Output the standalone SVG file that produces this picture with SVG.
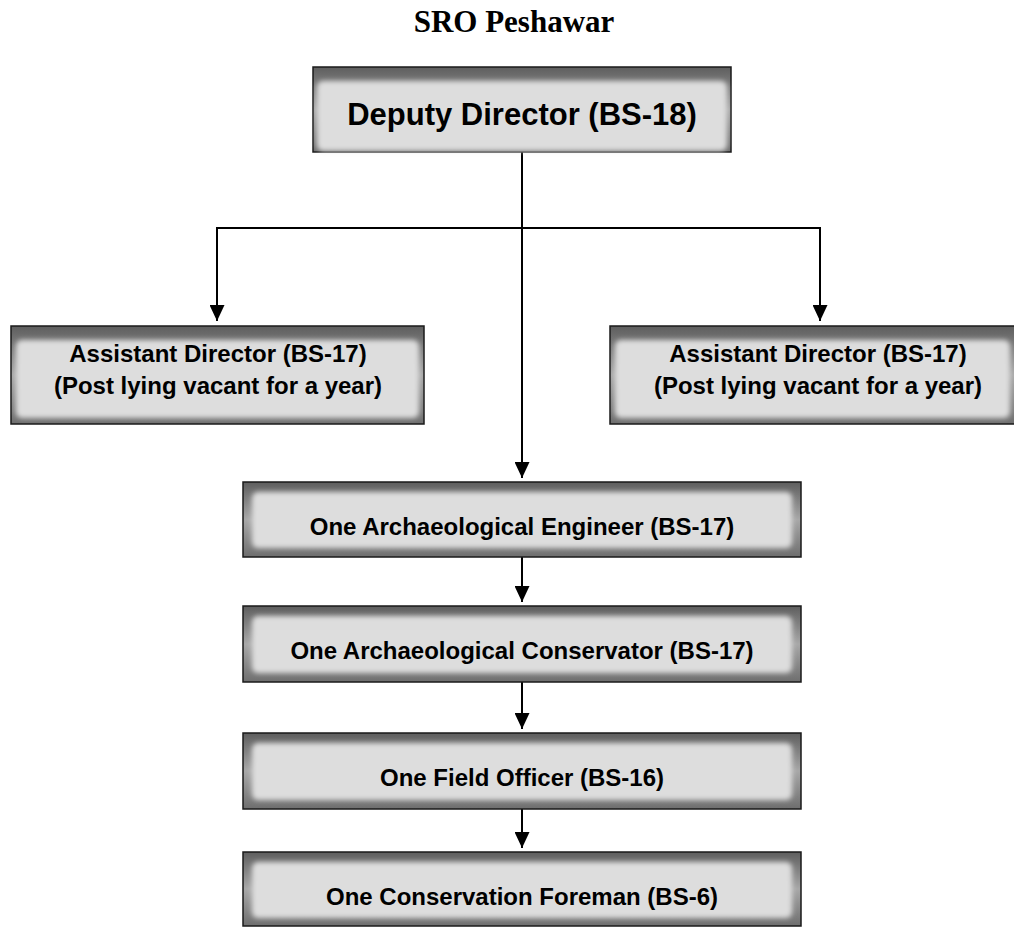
<svg xmlns="http://www.w3.org/2000/svg" width="1014" height="928" viewBox="0 0 1014 928">
<style>
.title{font-family:"Liberation Serif","Times New Roman",serif;font-weight:bold;font-size:31px;fill:#000;text-anchor:middle}
.lbl{font-family:"Liberation Sans",Arial,sans-serif;font-weight:bold;fill:#000;text-anchor:middle}
.big{font-size:31px}
.mid{font-size:24px}
.outer{fill:url(#edge);stroke:#1a1a1a;stroke-width:1.5}
.inner{fill:#dddddd;filter:url(#soft)}
.conn{fill:none;stroke:#000;stroke-width:2}
</style>
<defs>
<linearGradient id="edge" x1="0" y1="0" x2="0" y2="1">
<stop offset="0" stop-color="#5e5e5e"/>
<stop offset="0.5" stop-color="#a8a8a8"/>
<stop offset="1" stop-color="#6e6e6e"/>
</linearGradient>
<filter id="soft" x="-10%" y="-30%" width="120%" height="160%">
<feGaussianBlur stdDeviation="2.5"/>
</filter>
<marker id="ah" viewBox="0 0 16 15" refX="16" refY="7.5" markerWidth="16" markerHeight="15" markerUnits="userSpaceOnUse" orient="auto">
<path d="M0,0 L16,7.5 L0,15 z" fill="#000"/>
</marker>
</defs>
<text class="title" x="514" y="32">SRO Peshawar</text>
<g id="connectors">
<path class="conn" d="M522,152 V478" marker-end="url(#ah)"/>
<path class="conn" d="M522,228 H217 V321" marker-end="url(#ah)"/>
<path class="conn" d="M522,228 H820 V321" marker-end="url(#ah)"/>
<path class="conn" d="M522,557 V602" marker-end="url(#ah)"/>
<path class="conn" d="M522,682 V729" marker-end="url(#ah)"/>
<path class="conn" d="M522,809 V848" marker-end="url(#ah)"/>
</g>
<g id="deputy-director">
<rect class="outer" x="313" y="67" width="418" height="85"/>
<rect class="inner" x="317" y="81" width="410" height="70" rx="6"/>
<text class="lbl big" x="522" y="125">Deputy Director (BS-18)</text>
</g>
<g id="assistant-director-left">
<rect class="outer" x="11" y="326" width="413" height="98"/>
<rect class="inner" x="16" y="340" width="403" height="78" rx="6"/>
<text class="lbl mid" x="218" y="362">Assistant Director (BS-17)</text>
<text class="lbl mid" x="218" y="394">(Post lying vacant for a year)</text>
</g>
<g id="assistant-director-right">
<rect class="outer" x="610" y="326" width="420" height="98"/>
<rect class="inner" x="615" y="340" width="395" height="78" rx="6"/>
<text class="lbl mid" x="818" y="362">Assistant Director (BS-17)</text>
<text class="lbl mid" x="818" y="394">(Post lying vacant for a year)</text>
</g>
<g id="archaeological-engineer">
<rect class="outer" x="243" y="482" width="558" height="75"/>
<rect class="inner" x="252" y="492" width="540" height="56" rx="6"/>
<text class="lbl mid" x="522" y="535">One Archaeological Engineer (BS-17)</text>
</g>
<g id="archaeological-conservator">
<rect class="outer" x="243" y="606" width="558" height="76"/>
<rect class="inner" x="252" y="616" width="540" height="57" rx="6"/>
<text class="lbl mid" x="522" y="659">One Archaeological Conservator (BS-17)</text>
</g>
<g id="field-officer">
<rect class="outer" x="243" y="733" width="558" height="76"/>
<rect class="inner" x="252" y="743" width="540" height="57" rx="6"/>
<text class="lbl mid" x="522" y="786">One Field Officer (BS-16)</text>
</g>
<g id="conservation-foreman">
<rect class="outer" x="243" y="852" width="558" height="74"/>
<rect class="inner" x="252" y="862" width="540" height="56" rx="6"/>
<text class="lbl mid" x="522" y="905">One Conservation Foreman (BS-6)</text>
</g>
</svg>
